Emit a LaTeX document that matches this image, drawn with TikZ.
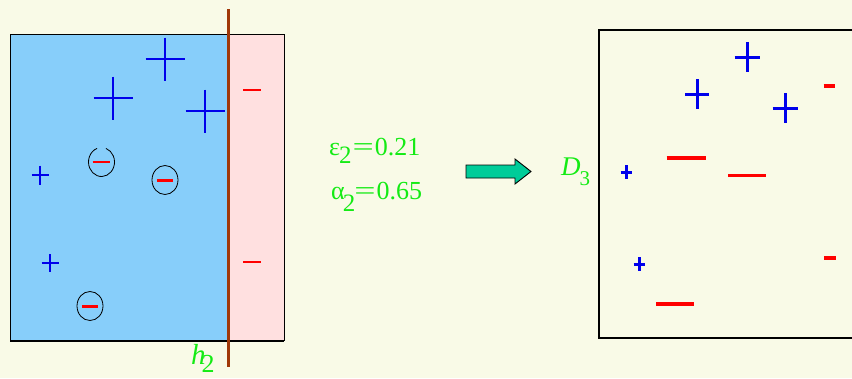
\documentclass[tikz,border=0pt]{standalone}
\usepackage{fontspec}
\setmainfont{Liberation Serif}
\definecolor{bg}{RGB}{249,250,231}
\definecolor{skyb}{RGB}{135,206,250}
\definecolor{pinkf}{RGB}{255,224,224}
\definecolor{brownl}{RGB}{160,56,8}
\definecolor{gtext}{RGB}{20,235,20}
\definecolor{teal2}{RGB}{0,204,153}
\definecolor{plusb}{RGB}{0,0,235}
\definecolor{minr}{RGB}{255,0,0}
\tikzset{
  plusbig/.style={draw=plusb,line width=2.4pt},
  plusthick/.style={draw=plusb,line width=3pt},
  minusthin/.style={draw=minr,line width=2pt},
  minusthick/.style={draw=minr,line width=3.5pt},
  ring/.style={draw=black,line width=0.8pt},
  lbl/.style={text=gtext,inner sep=0pt,anchor=base west},
  bigarrow/.style={draw=black,fill=teal2,line width=0.9pt,line join=miter},
}
\newcommand{\plusat}[5]{\draw[#1] (#2-#4,#3) -- (#2+#4,#3) (#2,#3-#5) -- (#2,#3+#5);}
\newcommand{\minusat}[4]{\draw[#1] (#2-#4,#3) -- (#2+#4,#3);}
\newcommand{\eqw}{\scalebox{1.45}[1]{=}}
\begin{document}
\begin{tikzpicture}[x=1pt,y=-1pt]
\fill[bg] (0,0) rectangle (852,378);
\useasboundingbox (0,0) rectangle (852,378);
% left box
\fill[skyb] (10,34) rectangle (228,341);
\fill[pinkf] (228,34) rectangle (284,341);
\draw[line width=1pt] (10,341) -- (10,34) -- (284,34) -- (284,341);
\draw[line width=2pt] (10,341) -- (284,341);
\draw[brownl,line width=3pt] (228,9) -- (228,367);
% big pluses left
\plusat{plusbig}{165}{59}{19.5}{21.5}
\plusat{plusbig}{113}{98}{19.5}{21.5}
\plusat{plusbig}{205}{111}{19.5}{21.5}
\plusat{plusbig}{40}{175}{8.5}{9.5}
\plusat{plusbig}{50}{263}{8.5}{9}
% minuses in pink
\minusat{minusthin}{252}{90}{9}
\minusat{minusthin}{252}{262}{9}
% circled minuses
\draw[ring] (101,162) ++(-70:14.5) arc[start angle=-70,end angle=250,x radius=13,y radius=14.5];
\minusat{minusthin}{101}{162}{8.5}
\draw[ring] (165,180) ellipse[x radius=13,y radius=14.5];
\draw[minr,line width=3pt] (157,180) -- (173,180);
\draw[ring] (90,306) ellipse[x radius=13,y radius=14.5];
\draw[minr,line width=3pt] (82,306) -- (98,306);
\node[lbl,font=\fontsize{29}{29}\selectfont] (h2) at (191,364) {\textit{h}\hspace{-4pt}\raisebox{-8pt}{\fontsize{26}{26}\selectfont 2}};
% text
\node[lbl,font=\fontsize{26}{26}\selectfont] (eps) at (329,155) {ε\hspace{-1pt}\raisebox{-8pt}{\fontsize{25}{25}\selectfont 2}\hspace{1pt}\eqw\hspace{1pt}0.21};
\node[lbl,font=\fontsize{26}{26}\selectfont] (alp) at (331,199) {α\hspace{-2pt}\raisebox{-12pt}{\fontsize{25}{25}\selectfont 2}\hspace{-1pt}\eqw\hspace{1pt}0.65};
% arrow
\coordinate (as) at (466,171.5);
\coordinate (at) at (531,171.5);
\draw[bigarrow] (466,165) -- (515,165) -- (515,159) -- (at) -- (515,184) -- (515,178) -- (466,178) -- cycle;
\node[lbl,font=\fontsize{27}{27}\selectfont] (D3) at (561,175) {\textit{D}\hspace{-1pt}\raisebox{-10pt}{\fontsize{21}{21}\selectfont 3}};
% right box
\draw[line width=1.3pt] (860,30) -- (599,30) -- (599,338) -- (860,338);
\plusat{plusthick}{747}{57}{12.5}{15}
\plusat{plusthick}{697}{94}{12}{15}
\plusat{plusthick}{785}{108}{12.5}{15}
\plusat{plusthick}{626}{172}{5.5}{7}
\plusat{plusthick}{639}{264}{5.5}{7}
\minusat{minusthick}{829}{86}{5.5}
\minusat{minusthick}{830}{258}{6}
\minusat{minusthick}{686}{158}{19.5}
\draw[minr,line width=3pt] (728,175) -- (766,175);
\minusat{minusthick}{675}{304}{19}
\end{tikzpicture}
\end{document}
